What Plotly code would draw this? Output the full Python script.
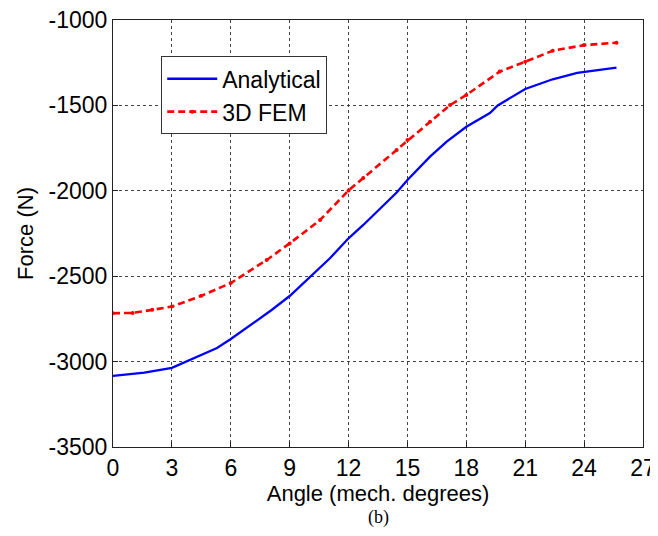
import plotly.graph_objects as go

# Analytical curve
ana_angle = [0, 1.6, 3, 3.7, 5.3, 6, 8.08, 9, 10.04, 11.05, 12, 12.75, 14.45, 15,
             16.15, 17, 18, 19.2, 19.6, 21, 22.4, 23.65, 25.65]
ana_force = [-3084, -3065, -3037, -3000, -2920, -2868, -2698, -2616, -2503, -2395,
             -2278, -2200, -2010, -1937, -1800, -1712, -1625, -1545, -1500, -1404,
             -1347, -1309, -1279]

# 3D FEM curve
fem_angle = [0, 1.0, 2.0, 3.0, 4.5, 6, 7.83, 9, 10.55, 12, 12.75, 14.45, 15, 16.15,
             17.17, 18, 19.7, 21, 22.4, 24, 25.65]
fem_force = [-2717, -2715, -2697, -2678, -2615, -2540, -2405, -2308, -2171, -1998,
             -1925, -1761, -1703, -1595, -1498, -1439, -1302, -1244, -1180, -1147,
             -1133]

x_ticks = [0, 3, 6, 9, 12, 15, 18, 21, 24, 27]
y_ticks = [-3500, -3000, -2500, -2000, -1500, -1000]

FONT = "Liberation Sans, Arial, Helvetica, sans-serif"

fig = go.Figure()
fig.add_trace(go.Scatter(x=ana_angle, y=ana_force, mode="lines", name="Analytical",
                         line=dict(color="#0000ff", width=2.3)))
fig.add_trace(go.Scatter(x=fem_angle, y=fem_force, mode="lines+markers", name="3D FEM",
                         line=dict(color="#ff0000", width=2.6, dash="7px,4px"),
                         marker=dict(color="#ff0000", size=4)))

axis_common = dict(
    showline=True, linecolor="#222", linewidth=1, mirror=True,
    ticks="inside", ticklen=5, tickcolor="#222",
    showgrid=True, gridcolor="#444", gridwidth=1, griddash="dot",
    zeroline=False, tickfont=dict(family=FONT, size=23, color="black"),
    automargin=False, ticklabeloverflow="allow",
)

fig.update_xaxes(range=[0, 27], tickvals=x_ticks, ticktext=[str(v) for v in x_ticks],
                 title=dict(text="Angle (mech. degrees)", font=dict(family=FONT, size=22, color="black"),
                            standoff=4),
                 **axis_common)
fig.update_yaxes(range=[-3500, -1000], tickvals=y_ticks, ticktext=[str(v) for v in y_ticks],
                 title=dict(text="Force (N)", font=dict(family=FONT, size=22, color="black"),
                            standoff=8),
                 ticklabelstandoff=0,
                 **axis_common)

# page body adds an 8px offset at left/top, so the figure is sized to compensate
fig.update_layout(
    width=650, height=528,
    margin=dict(l=105, r=15, t=12, b=89),
    paper_bgcolor="white", plot_bgcolor="white",
    font=dict(family=FONT, size=22, color="black"),
    showlegend=True,
    legend=dict(x=0.091, y=0.915, xanchor="left", yanchor="top",
                bgcolor="white", bordercolor="#333", borderwidth=1,
                font=dict(family=FONT, size=23, color="black"),
                itemwidth=50, tracegroupgap=0),
    annotations=[dict(text="(b)", x=0.5, y=-0.165, xref="paper", yref="paper",
                      xanchor="center", yanchor="middle", showarrow=False,
                      font=dict(family="Liberation Serif, Times New Roman, serif", size=18,
                                color="black"))],
)

fig.write_html("out.html")
